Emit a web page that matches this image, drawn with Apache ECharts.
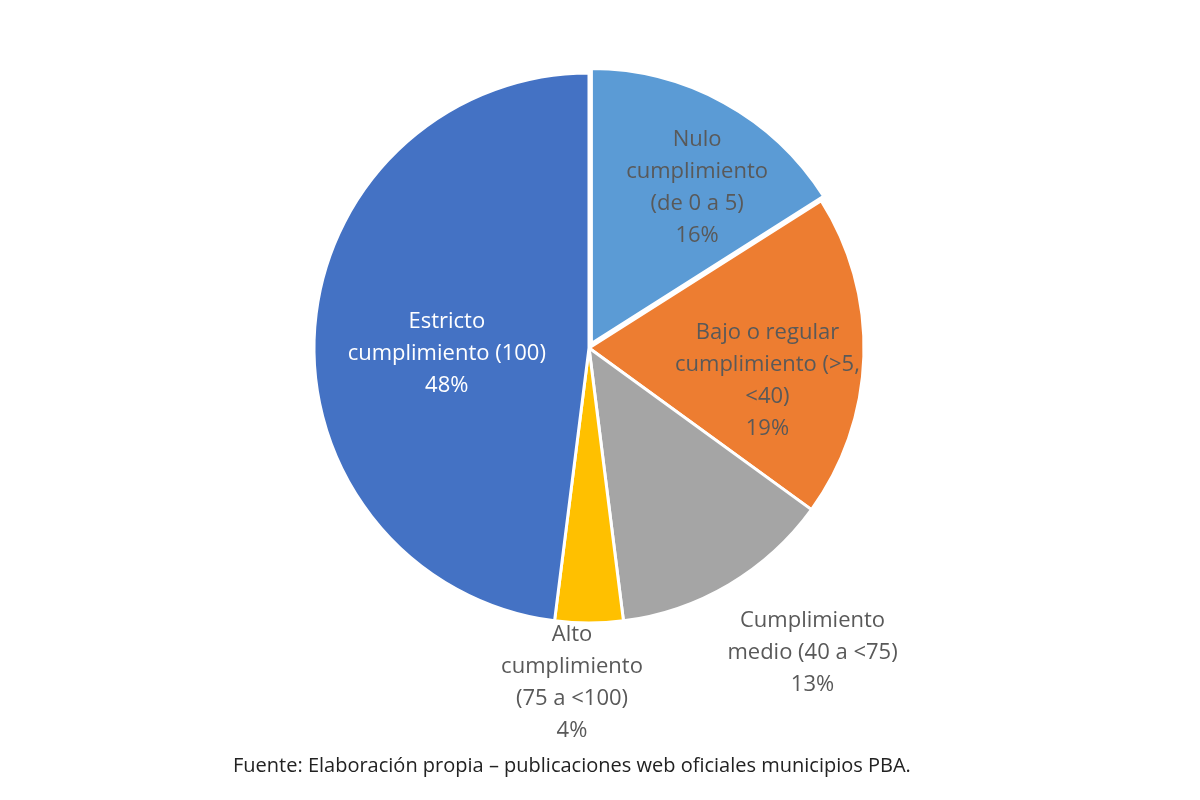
<!DOCTYPE html>
<html>
<head>
<meta charset="utf-8">
<script src="https://cdn.jsdelivr.net/npm/echarts@6/dist/echarts.min.js"></script>
<style>
  html, body { margin: 0; padding: 0; background: #fff; }
  #chart { width: 1200px; height: 800px; }
</style>
</head>
<body>
<div id="chart"></div>
<script>
// datos del gráfico
const categorias = [
    "Nulo\ncumplimiento\n(de 0 a 5)",
    "Bajo o regular\ncumplimiento (>5,\n<40)",
    "Cumplimiento\nmedio (40 a <75)",
    "Alto\ncumplimiento\n(75 a <100)",
    "Estricto\ncumplimiento (100)"
];
const porcentajes = [16, 19, 13, 4, 48];
const colores = ["#5B9BD5", "#ED7D31", "#A5A5A5", "#FFC000", "#4472C4"];
const fuente = "Fuente: Elaboración propia – publicaciones web oficiales municipios PBA.";

// ajustes de etiqueta por porción
const etiquetas = [
    { offset: [38, -33], color: "#595959" },
    { offset: [38, 28], color: "#595959" },
    { offset: [152, 184], color: "#595959" },
    { offset: [-17, 194], color: "#595959" },
    { offset: [-2, 15], color: "#ffffff" }
];

const chart = echarts.init(document.getElementById("chart"));

const datos = categorias.map((nombre, i) => ({
    name: nombre,
    value: porcentajes[i],
    selected: i === 0,
    itemStyle: { color: colores[i] },
    label: {
        offset: etiquetas[i].offset,
        color: etiquetas[i].color
    },
    select: {
        label: {
            offset: etiquetas[i].offset,
            color: etiquetas[i].color
        }
    }
}));

chart.setOption({
    animation: false,
    title: {
        text: fuente,
        left: 228,
        top: 751,
        textStyle: {
            fontFamily: "Open Sans",
            fontSize: 20,
            fontWeight: "normal",
            color: "#222"
        }
    },
    series: [{
        type: "pie",
        center: [589, 348],
        radius: 275,
        startAngle: 90,
        clockwise: true,
        selectedMode: "single",
        selectedOffset: 5,
        avoidLabelOverlap: false,
        itemStyle: { borderColor: "#fff", borderWidth: 3 },
        label: {
            show: true,
            position: "inside",
            formatter: p => p.name + "\n" + p.value + "%",
            fontFamily: "Open Sans",
            fontSize: 22,
            lineHeight: 32,
            align: "center"
        },
        labelLine: { show: false },
        emphasis: { disabled: true },
        data: datos
    }]
});
</script>
</body>
</html>
